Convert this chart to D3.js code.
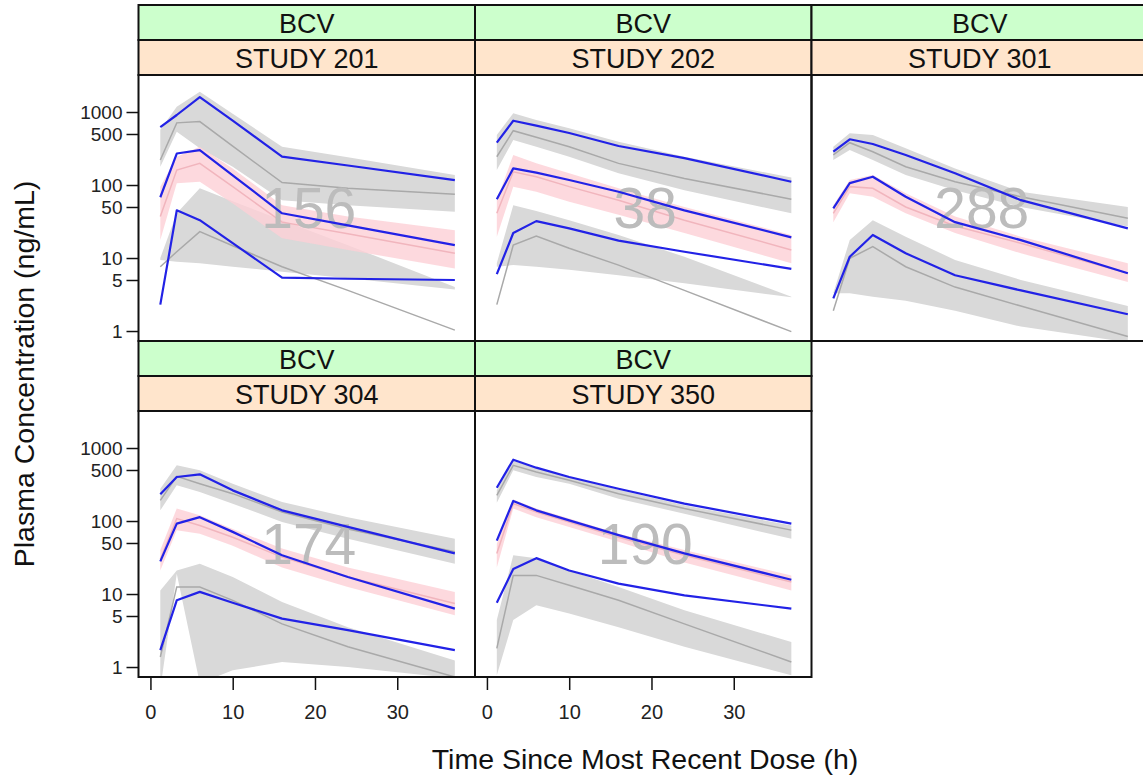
<!DOCTYPE html>
<html>
<head>
<meta charset="utf-8">
<script src="https://cdn.jsdelivr.net/npm/d3@7"></script>
<style>
  body { margin: 0; background: #fff; }
  svg { display: block; font-family: "Liberation Sans", Arial, sans-serif; }
</style>
</head>
<body>
<div id="chart"></div>
<script>
// panel labels and number of observed subjects (watermark)
const drug = "BCV";
const studies = ["STUDY 201", "STUDY 202", "STUDY 301", "STUDY 304", "STUDY 350"];
const nObs = [156, 38, 288, 174, 190];
const times = [1.2, 3.2, 6, 10, 16, 24, 37];
const xTicks = [0, 10, 20, 30];
const yTicks = [1, 5, 10, 50, 100, 500, 1000];

// observed percentiles (ng/mL), one row per study
const obs95 = [
  [620, 910, 1600, 760, 245, 185, 117],
  [380, 760, 650, 516, 342, 234, 111],
  [286, 423, 365, 258, 145, 62, 25.5],
  [232, 401, 436, 263, 140, 83, 36],
  [286, 692, 538, 401, 277, 173, 92]
];
const obs50 = [
  [68, 270, 300, 136, 41, 28, 15],
  [64, 169, 148, 117, 81, 45, 19.2],
  [48, 106, 130, 69, 31, 17.6, 6.2],
  [28, 92, 113, 71, 34, 17.1, 6.3],
  [54, 188, 140, 102, 64, 36, 15.7]
];
const obs05 = [
  [2.3, 45, 33, 16, 5.4, 5.2, 5.0],
  [6.0, 22, 32, 25.5, 17.3, 12.2, 7.1],
  [2.8, 10.4, 20.7, 11.6, 5.8, 3.6, 1.7],
  [1.7, 8.2, 10.7, 7.6, 4.6, 3.2, 1.7],
  [7.6, 22, 31, 21, 13.9, 9.6, 6.3]
];

// simulated 95th percentile: median and 90% interval
const sim95Mid = [
  [220, 710, 740, 340, 108, 90, 75],
  [244, 555, 450, 335, 198, 123, 64],
  [258, 380, 286, 178, 111, 69, 35],
  [192, 410, 324, 237, 133, 78, 38],
  [225, 579, 469, 361, 237, 148, 75]
];
const sim95Lo = [
  [178, 537, 318, 178, 62, 53, 43],
  [160, 413, 335, 244, 145, 85, 41],
  [220, 302, 220, 137, 85, 50, 27],
  [140, 308, 250, 173, 97, 57, 26],
  [178, 495, 401, 324, 202, 126, 57]
];
const sim95Hi = [
  [570, 1180, 1900, 950, 335, 240, 137],
  [484, 960, 777, 598, 392, 244, 127],
  [335, 511, 484, 318, 169, 81, 50],
  [277, 579, 495, 324, 182, 113, 57],
  [263, 664, 538, 401, 268, 164, 87]
];

// simulated median
const sim50Mid = [
  [37, 160, 198, 95, 31, 21.5, 11.6],
  [41, 152, 130, 95, 62, 33, 12.9],
  [41, 95, 90, 50, 27.5, 15.9, 6.2],
  [30, 108, 87, 60, 32, 17.1, 7.4],
  [36, 173, 133, 97, 60, 34, 14.6]
];
const sim50Lo = [
  [17.6, 106, 111, 56, 18.6, 12.9, 7.2],
  [19.6, 95, 81, 59, 39, 22, 8.5],
  [31, 77, 69, 41, 22, 11.6, 4.7],
  [21, 75, 67, 46, 23, 12.5, 5.1],
  [23, 148, 113, 83, 52, 27, 11.2]
];
const sim50Hi = [
  [95, 244, 335, 169, 53, 37, 24],
  [62, 258, 198, 145, 90, 50, 20.7],
  [53, 117, 137, 77, 37, 19.6, 8.5],
  [40, 148, 120, 78, 42, 23, 10.7],
  [49, 197, 148, 108, 67, 40, 18]
];

// simulated 5th percentile
const sim05Mid = [
  [7.6, 12.2, 23, 14.7, 7.6, 3.6, 1.03],
  [2.3, 15, 20, 13.6, 8.0, 3.6, 0.98],
  [1.9, 9.9, 14.3, 7.6, 4.0, 2.2, 0.84],
  [1.37, 12.5, 12.5, 8.2, 3.9, 1.9, 0.73],
  [1.8, 18, 18, 13.2, 8.2, 3.9, 1.17]
];
const sim05Lo = [
  [9.4, 8.9, 8.5, 7.6, 6.5, 5.3, 3.7],
  [7.6, 8.0, 7.6, 6.9, 5.8, 4.5, 2.9],
  [3.3, 3.3, 2.95, 2.6, 1.9, 1.15, 0.7],
  [0.5, 19, 0.6, 0.9, 1.17, 1.0, 0.7],
  [0.77, 4.4, 7.0, 5.4, 3.5, 1.9, 0.77]
];
const sim05Hi = [
  [10, 41, 90, 60, 33, 15, 4.0],
  [8.5, 53, 44, 33, 20.7, 10.4, 2.95],
  [3.3, 17.6, 33, 19.6, 9.4, 5.0, 2.2],
  [11.2, 21, 26, 17.1, 7.8, 3.5, 1.23],
  [4.4, 34, 31, 21, 12.5, 6.0, 2.2]
];

const W = 1143, H = 779;
const panelLeft = 138.5, panelW = 336.5;
const rowTop = 5, rowH = 336, stripH = 35, plotH = 266;
const layout = [[0, 0], [1, 0], [2, 0], [0, 1], [1, 1]]; // [col, row]

const svg = d3.select("#chart").append("svg")
  .attr("width", W)
  .attr("height", H);

const x = d3.scaleLinear().domain([-1.45, 39.45]).range([0, panelW]);
const y = d3.scaleLog().domain([0.73, 3214]).range([plotH, 0]);

const bandArea = (lo, hi) => d3.area()
  .x((d, i) => x(times[i]))
  .y0((d, i) => y(Math.max(lo[i], 0.3)))
  .y1((d, i) => y(hi[i]))(times);
const line = vals => d3.line()
  .x((d, i) => x(times[i]))
  .y(d => y(d))(vals);

studies.forEach((study, k) => {
  const [col, row] = layout[k];
  const px = panelLeft + col * panelW;
  const top = rowTop + row * rowH;
  const g = svg.append("g").attr("transform", `translate(${px},${top})`);

  // strips
  g.append("rect").attr("width", panelW).attr("height", stripH)
    .attr("fill", "#ccffcc").attr("stroke", "#111").attr("stroke-width", 2);
  g.append("rect").attr("y", stripH).attr("width", panelW).attr("height", stripH)
    .attr("fill", "#ffe5cc").attr("stroke", "#111").attr("stroke-width", 2);
  g.append("text").attr("x", panelW / 2).attr("y", stripH / 2 + 10)
    .attr("text-anchor", "middle").attr("font-size", 27).attr("fill", "#111").text(drug);
  g.append("text").attr("x", panelW / 2).attr("y", stripH * 1.5 + 10)
    .attr("text-anchor", "middle").attr("font-size", 27).attr("fill", "#111").text(study);

  const p = g.append("g").attr("transform", `translate(0,${stripH * 2})`);
  p.append("clipPath").attr("id", "clip" + k)
    .append("rect").attr("width", panelW).attr("height", plotH);
  const c = p.append("g").attr("clip-path", `url(#clip${k})`);

  c.append("path").attr("d", bandArea(sim95Lo[k], sim95Hi[k])).attr("fill", "#d9d9d9");
  c.append("path").attr("d", bandArea(sim05Lo[k], sim05Hi[k])).attr("fill", "#d9d9d9");
  c.append("path").attr("d", bandArea(sim50Lo[k], sim50Hi[k]))
    .attr("fill", "#fdcfd6").attr("fill-opacity", 0.8);

  [sim95Mid[k], sim05Mid[k]].forEach(v => {
    c.append("path").attr("d", line(v)).attr("fill", "none")
      .attr("stroke", "#a9a9a9").attr("stroke-width", 1.5);
  });
  c.append("path").attr("d", line(sim50Mid[k])).attr("fill", "none")
    .attr("stroke", "#f1b5bd").attr("stroke-width", 1.5);

  c.append("text").attr("x", panelW / 2 + 2).attr("y", plotH / 2 + 20)
    .attr("text-anchor", "middle").attr("font-size", 57).attr("fill", "#bcbcbc")
    .text(nObs[k]);

  [obs95[k], obs50[k], obs05[k]].forEach(v => {
    c.append("path").attr("d", line(v)).attr("fill", "none")
      .attr("stroke", "#2222e6").attr("stroke-width", 2.2).attr("stroke-linejoin", "round");
  });

  p.append("rect").attr("width", panelW).attr("height", plotH)
    .attr("fill", "none").attr("stroke", "#111").attr("stroke-width", 2);

  if (col === 0) {
    const ya = p.append("g")
      .call(d3.axisLeft(y).tickValues(yTicks).tickFormat(d3.format("d")).tickSize(12).tickPadding(4));
    ya.select(".domain").remove();
    ya.selectAll("line").attr("stroke", "#111").attr("stroke-width", 1.5);
    ya.selectAll("text").attr("font-size", 19).attr("fill", "#222")
      .attr("font-family", "Liberation Sans, Arial, sans-serif");
  }
  if (row === 1) {
    const xa = p.append("g").attr("transform", `translate(0,${plotH})`)
      .call(d3.axisBottom(x).tickValues(xTicks).tickSize(13).tickPadding(15));
    xa.select(".domain").remove();
    xa.selectAll("line").attr("stroke", "#111").attr("stroke-width", 1.5);
    xa.selectAll("text").attr("font-size", 20).attr("fill", "#222")
      .attr("font-family", "Liberation Sans, Arial, sans-serif");
  }
});

svg.append("text")
  .attr("transform", "translate(34,374) rotate(-90)")
  .attr("text-anchor", "middle").attr("font-size", 28.5).attr("fill", "#111")
  .text("Plasma Concentration (ng/mL)");

svg.append("text")
  .attr("x", 645).attr("y", 769)
  .attr("text-anchor", "middle").attr("font-size", 28.5).attr("fill", "#111")
  .text("Time Since Most Recent Dose (h)");
</script>
</body>
</html>
